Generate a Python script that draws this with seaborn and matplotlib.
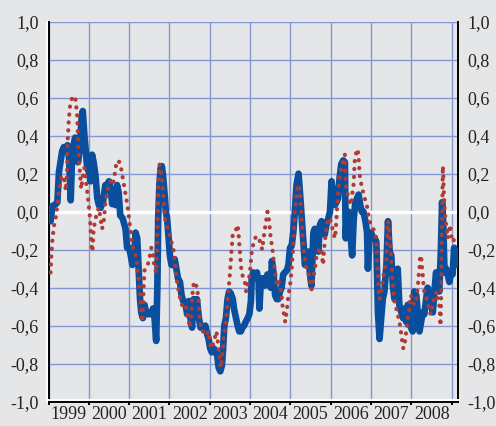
import numpy as np
import pandas as pd
import matplotlib
matplotlib.use("Agg")
import matplotlib.pyplot as plt
import matplotlib.patheffects as pe
import seaborn as sns
from matplotlib.ticker import FuncFormatter

# ---- data (decimal years, correlation values) ----
blue_years = [1999.05, 1999.10, 1999.18, 1999.22, 1999.26, 1999.34, 1999.38, 1999.44, 1999.47, 1999.51,
              1999.55, 1999.59, 1999.66, 1999.69, 1999.73, 1999.77, 1999.82, 1999.85, 1999.89, 1999.92,
              1999.96, 2000.00, 2000.04, 2000.08, 2000.12, 2000.17, 2000.21, 2000.25, 2000.29, 2000.35,
              2000.41, 2000.45, 2000.50, 2000.54, 2000.58, 2000.62, 2000.66, 2000.70, 2000.74, 2000.78,
              2000.84, 2000.91, 2000.95, 2001.00, 2001.04, 2001.08, 2001.12, 2001.16, 2001.20, 2001.24,
              2001.27, 2001.30, 2001.34, 2001.38, 2001.42, 2001.47, 2001.51, 2001.55, 2001.59, 2001.63,
              2001.67, 2001.70, 2001.72, 2001.75, 2001.78, 2001.81, 2001.84, 2001.88, 2001.91, 2001.94,
              2001.98, 2002.01, 2002.05, 2002.09, 2002.13, 2002.17, 2002.21, 2002.26, 2002.30, 2002.34,
              2002.40, 2002.44, 2002.48, 2002.52, 2002.56, 2002.60, 2002.64, 2002.68, 2002.73, 2002.77,
              2002.81, 2002.85, 2002.89, 2002.93, 2002.97, 2003.01, 2003.05, 2003.10, 2003.14, 2003.18,
              2003.22, 2003.26, 2003.30, 2003.33, 2003.36, 2003.40, 2003.44, 2003.48, 2003.52, 2003.57,
              2003.60, 2003.65, 2003.69, 2003.73, 2003.77, 2003.81, 2003.85, 2003.89, 2003.94, 2003.98,
              2004.02, 2004.04, 2004.08, 2004.12, 2004.17, 2004.21, 2004.23, 2004.26, 2004.31, 2004.35,
              2004.39, 2004.43, 2004.47, 2004.51, 2004.54, 2004.58, 2004.62, 2004.66, 2004.70, 2004.74,
              2004.78, 2004.82, 2004.86, 2004.91, 2004.95, 2004.99, 2005.03, 2005.07, 2005.11, 2005.15,
              2005.20, 2005.23, 2005.28, 2005.32, 2005.36, 2005.40, 2005.44, 2005.48, 2005.52, 2005.57,
              2005.60, 2005.65, 2005.69, 2005.73, 2005.77, 2005.81, 2005.85, 2005.89, 2005.94, 2005.98,
              2006.02, 2006.06, 2006.10, 2006.14, 2006.18, 2006.22, 2006.26, 2006.31, 2006.35, 2006.37,
              2006.40, 2006.44, 2006.49, 2006.53, 2006.57, 2006.61, 2006.65, 2006.69, 2006.73, 2006.77,
              2006.81, 2006.86, 2006.90, 2006.92, 2006.96, 2007.00, 2007.05, 2007.09, 2007.13, 2007.17,
              2007.21, 2007.25, 2007.29, 2007.33, 2007.38, 2007.42, 2007.46, 2007.50, 2007.54, 2007.58,
              2007.62, 2007.66, 2007.70, 2007.75, 2007.79, 2007.83, 2007.87, 2007.91, 2007.95, 2007.99,
              2008.03, 2008.07, 2008.12, 2008.16, 2008.20, 2008.24, 2008.28, 2008.32, 2008.36, 2008.40,
              2008.45, 2008.49, 2008.53, 2008.57, 2008.61, 2008.65, 2008.69, 2008.73, 2008.76, 2008.79,
              2008.82, 2008.86, 2008.90, 2008.94, 2008.98, 2009.02, 2009.06, 2009.10, 2009.14]
blue_values = [-0.05, 0.03, 0.04, 0.05, 0.21, 0.32, 0.34, 0.32, 0.35, 0.28,
               0.06, 0.32, 0.39, 0.37, 0.26, 0.32, 0.49, 0.53, 0.40, 0.33,
               0.23, 0.21, 0.16, 0.30, 0.26, 0.18, 0.07, 0.035, 0.02, 0.05,
               0.14, 0.14, 0.16, 0.12, 0.04, 0.10, 0.035, 0.14, 0.10, -0.02,
               -0.035, -0.09, -0.19, -0.19, -0.23, -0.28, -0.25, -0.11, -0.14, -0.32,
               -0.46, -0.53, -0.56, -0.49, -0.53, -0.54, -0.53, -0.54, -0.51, -0.56,
               -0.68, -0.39, -0.035, 0.14, 0.23, 0.24, 0.19, 0.09, 0.0, -0.035,
               -0.14, -0.23, -0.28, -0.28, -0.25, -0.30, -0.35, -0.37, -0.44, -0.47,
               -0.49, -0.54, -0.47, -0.56, -0.61, -0.46, -0.54, -0.46, -0.56, -0.61,
               -0.60, -0.61, -0.60, -0.64, -0.67, -0.72, -0.74, -0.72, -0.74, -0.75,
               -0.82, -0.84, -0.81, -0.72, -0.60, -0.56, -0.46, -0.42, -0.43, -0.46,
               -0.51, -0.56, -0.60, -0.63, -0.63, -0.61, -0.60, -0.58, -0.56, -0.54,
               -0.47, -0.35, -0.32, -0.33, -0.32, -0.37, -0.51, -0.39, -0.35, -0.39,
               -0.37, -0.33, -0.35, -0.40, -0.26, -0.32, -0.44, -0.46, -0.46, -0.42,
               -0.40, -0.33, -0.32, -0.31, -0.28, -0.19, -0.18, -0.11, 0.0, 0.14,
               0.20, 0.12, -0.035, -0.16, -0.28, -0.23, -0.21, -0.32, -0.39, -0.11,
               -0.09, -0.14, -0.21, -0.07, -0.05, -0.11, -0.12, -0.07, -0.035, 0.0,
               0.16, 0.09, 0.035, 0.05, 0.07, 0.18, 0.25, 0.27, 0.26, -0.14,
               0.0, 0.0, -0.12, -0.23, -0.035, 0.05, 0.07, 0.09, 0.035, 0.0,
               0.0, -0.05, -0.11, -0.30, -0.14, -0.11, -0.14, -0.14, -0.16, -0.53,
               -0.67, -0.56, -0.46, -0.42, -0.28, -0.05, -0.21, -0.23, -0.39, -0.46,
               -0.32, -0.30, -0.49, -0.53, -0.56, -0.51, -0.58, -0.49, -0.53, -0.61,
               -0.63, -0.42, -0.44, -0.54, -0.63, -0.58, -0.53, -0.54, -0.47, -0.40,
               -0.42, -0.49, -0.53, -0.42, -0.32, -0.35, -0.42, -0.21, 0.05, -0.07,
               -0.32, -0.30, -0.33, -0.37, -0.32, -0.33, -0.19, -0.25, -0.28]

red_years = [1999.05, 1999.07, 1999.10, 1999.14, 1999.19, 1999.24, 1999.28, 1999.32, 1999.36, 1999.40,
             1999.43, 1999.46, 1999.47, 1999.50, 1999.53, 1999.57, 1999.62, 1999.67, 1999.71, 1999.73,
             1999.75, 1999.79, 1999.81, 1999.85, 1999.89, 1999.93, 1999.98, 2000.03, 2000.07, 2000.09,
             2000.12, 2000.17, 2000.21, 2000.25, 2000.29, 2000.33, 2000.38, 2000.41, 2000.45, 2000.49,
             2000.54, 2000.59, 2000.63, 2000.68, 2000.72, 2000.76, 2000.80, 2000.84, 2000.88, 2000.92,
             2000.96, 2001.00, 2001.04, 2001.08, 2001.12, 2001.16, 2001.20, 2001.24, 2001.28, 2001.30,
             2001.33, 2001.36, 2001.38, 2001.42, 2001.46, 2001.50, 2001.55, 2001.59, 2001.63, 2001.68,
             2001.70, 2001.715, 2001.73, 2001.75, 2001.78, 2001.82, 2001.86, 2001.90, 2001.94, 2001.98,
             2002.03, 2002.07, 2002.11, 2002.15, 2002.19, 2002.23, 2002.27, 2002.31, 2002.36, 2002.40,
             2002.44, 2002.48, 2002.50, 2002.54, 2002.56, 2002.59, 2002.62, 2002.64, 2002.68, 2002.73,
             2002.75, 2002.78, 2002.81, 2002.85, 2002.89, 2002.93, 2002.97, 2003.00, 2003.03, 2003.10,
             2003.16, 2003.19, 2003.22, 2003.26, 2003.28, 2003.30, 2003.33, 2003.34, 2003.38, 2003.41,
             2003.44, 2003.47, 2003.49, 2003.52, 2003.55, 2003.57, 2003.61, 2003.66, 2003.69, 2003.71,
             2003.74, 2003.77, 2003.80, 2003.84, 2003.88, 2003.90, 2003.92, 2003.96, 2003.98, 2004.00,
             2004.02, 2004.04, 2004.10, 2004.15, 2004.18, 2004.22, 2004.26, 2004.30, 2004.34, 2004.38,
             2004.43, 2004.46, 2004.49, 2004.51, 2004.55, 2004.59, 2004.63, 2004.66, 2004.70, 2004.74,
             2004.78, 2004.80, 2004.84, 2004.87, 2004.89, 2004.91, 2004.95, 2004.99, 2005.03, 2005.06,
             2005.09, 2005.11, 2005.15, 2005.19, 2005.22, 2005.25, 2005.28, 2005.31, 2005.36, 2005.40,
             2005.44, 2005.47, 2005.49, 2005.52, 2005.55, 2005.57, 2005.61, 2005.63, 2005.65, 2005.69,
             2005.73, 2005.77, 2005.79, 2005.81, 2005.83, 2005.85, 2005.88, 2005.90, 2005.94, 2005.98,
             2006.02, 2006.06, 2006.10, 2006.12, 2006.14, 2006.16, 2006.18, 2006.21, 2006.24, 2006.29,
             2006.32, 2006.35, 2006.37, 2006.40, 2006.45, 2006.49, 2006.51, 2006.54, 2006.57, 2006.59,
             2006.62, 2006.65, 2006.68, 2006.70, 2006.72, 2006.76, 2006.80, 2006.84, 2006.88, 2006.92,
             2006.96, 2007.00, 2007.05, 2007.10, 2007.13, 2007.15, 2007.17, 2007.19, 2007.21, 2007.25,
             2007.28, 2007.29, 2007.33, 2007.36, 2007.38, 2007.39, 2007.41, 2007.42, 2007.44, 2007.46,
             2007.48, 2007.50, 2007.52, 2007.54, 2007.56, 2007.58, 2007.61, 2007.64, 2007.66, 2007.70,
             2007.73, 2007.75, 2007.77, 2007.80, 2007.83, 2007.85, 2007.87, 2007.89, 2007.91, 2007.94,
             2007.95, 2007.97, 2007.99, 2008.03, 2008.07, 2008.12, 2008.13, 2008.16, 2008.17, 2008.20,
             2008.21, 2008.24, 2008.26, 2008.28, 2008.30, 2008.32, 2008.35, 2008.38, 2008.40, 2008.44,
             2008.49, 2008.51, 2008.53, 2008.57, 2008.59, 2008.63, 2008.65, 2008.67, 2008.69, 2008.71,
             2008.72, 2008.735, 2008.745, 2008.755, 2008.765, 2008.77, 2008.78, 2008.79, 2008.80, 2008.81,
             2008.83, 2008.86, 2008.88, 2008.90, 2008.92, 2008.94, 2008.955, 2008.98, 2009.00, 2009.03,
             2009.06, 2009.10]
red_values = [-0.32, -0.23, -0.14, -0.07, -0.02, 0.07, 0.14, 0.18, 0.19, 0.16,
              0.11, 0.21, 0.35, 0.47, 0.55, 0.59, 0.61, 0.59, 0.51, 0.39,
              0.28, 0.18, 0.12, 0.18, 0.23, 0.16, 0.07, -0.035, -0.19, -0.21,
              -0.09, -0.035, 0.0, 0.02, -0.035, -0.09, -0.035, 0.05, 0.10, 0.14,
              0.16, 0.14, 0.18, 0.25, 0.27, 0.26, 0.23, 0.18, 0.13, 0.08,
              0.03, -0.04, -0.11, -0.175, -0.21, -0.23, -0.28, -0.37, -0.46, -0.55,
              -0.58, -0.40, -0.31, -0.29, -0.28, -0.25, -0.19, -0.22, -0.30, -0.32,
              -0.15, 0.05, 0.17, 0.25, 0.23, 0.16, 0.05, -0.06, -0.08, -0.105,
              -0.14, -0.18, -0.21, -0.30, -0.37, -0.42, -0.46, -0.49, -0.50, -0.49,
              -0.54, -0.58, -0.61, -0.56, -0.46, -0.39, -0.37, -0.39, -0.39, -0.49,
              -0.56, -0.61, -0.63, -0.63, -0.65, -0.64, -0.63, -0.69, -0.72, -0.69,
              -0.63, -0.66, -0.74, -0.79, -0.82, -0.77, -0.72, -0.67, -0.61, -0.56,
              -0.47, -0.40, -0.35, -0.26, -0.17, -0.115, -0.105, -0.09, -0.07, -0.11,
              -0.19, -0.28, -0.33, -0.35, -0.38, -0.42, -0.39, -0.37, -0.34, -0.31,
              -0.26, -0.21, -0.15, -0.13, -0.13, -0.14, -0.17, -0.20, -0.13, -0.07,
              0.0, -0.03, -0.09, -0.14, -0.19, -0.27, -0.33, -0.38, -0.36, -0.39,
              -0.44, -0.49, -0.54, -0.58, -0.55, -0.52, -0.44, -0.39, -0.30, -0.21,
              -0.10, 0.0, 0.10, 0.14, 0.14, 0.06, -0.05, -0.16, -0.26, -0.30,
              -0.32, -0.35, -0.39, -0.41, -0.39, -0.34, -0.30, -0.26, -0.23, -0.21,
              -0.19, -0.21, -0.25, -0.28, -0.21, -0.16, -0.11, -0.07, -0.035, -0.035,
              -0.07, -0.105, -0.14, -0.105, -0.035, 0.035, 0.10, 0.16, 0.21, 0.25,
              0.28, 0.30, 0.14, 0.105, 0.07, 0.035, 0.05, 0.105, 0.15, 0.26,
              0.30, 0.33, 0.31, 0.25, 0.19, 0.14, 0.105, 0.07, 0.05, 0.0,
              -0.05, -0.07, -0.09, -0.105, -0.16, -0.26, -0.35, -0.42, -0.46, -0.42,
              -0.39, -0.35, -0.32, -0.28, -0.25, -0.18, -0.09, -0.05, -0.07, -0.14,
              -0.18, -0.25, -0.32, -0.39, -0.44, -0.47, -0.49, -0.53, -0.54, -0.58,
              -0.61, -0.65, -0.68, -0.72, -0.70, -0.67, -0.63, -0.60, -0.56, -0.53,
              -0.49, -0.46, -0.44, -0.47, -0.49, -0.47, -0.44, -0.40, -0.35, -0.30,
              -0.25, -0.23, -0.28, -0.33, -0.39, -0.42, -0.44, -0.46, -0.47, -0.53,
              -0.54, -0.51, -0.47, -0.46, -0.44, -0.42, -0.46, -0.47, -0.49, -0.54,
              -0.60, -0.47, -0.25, -0.12, 0.0, 0.105, 0.24, 0.19, 0.12, 0.07,
              0.0, -0.07, -0.105, -0.14, -0.105, -0.09, -0.07, -0.105, -0.14, -0.13,
              -0.16, -0.17]

year_labels = ["1999", "2000", "2001", "2002", "2003", "2004", "2005", "2006", "2007", "2008"]
y_ticks = [-1.0, -0.8, -0.6, -0.4, -0.2, 0.0, 0.2, 0.4, 0.6, 0.8, 1.0]

# ---- style ----
BG = "#e5e6e8"
GRID = "#8597d3"
BLUE = "#0a4f9e"
RED = "#ae3b34"

sns.set_style("white", {"axes.facecolor": BG, "figure.facecolor": BG})
plt.rcParams["font.family"] = ["Liberation Serif", "DejaVu Serif"]

fig = plt.figure(figsize=(4.96, 4.26), dpi=100, facecolor=BG)
ax = fig.add_axes([48.5 / 496, (426 - 401.7) / 426, (458 - 48.5) / 496, (401.7 - 21.7) / 426])
ax.set_facecolor(BG)

df_blue = pd.DataFrame({"year": blue_years, "value": blue_values})
df_red = pd.DataFrame({"year": red_years, "value": red_values})

sns.lineplot(data=df_blue, x="year", y="value", ax=ax, color=BLUE, linewidth=4.8,
             estimator=None, sort=False, zorder=3)
ax.lines[-1].set_solid_joinstyle("round")
ax.lines[-1].set_solid_capstyle("round")
sns.lineplot(data=df_red, x="year", y="value", ax=ax, color=RED, linewidth=3.0,
             estimator=None, sort=False, zorder=4)
red_line = ax.lines[-1]
red_line.set_linestyle((0, (0.05, 1.85)))
red_line.set_dash_capstyle("round")

ax.axhline(0.0, color="white", linewidth=2.4, zorder=2)

ax.set_xlim(1999.04, 2009.155)
ax.set_ylim(-1.0, 1.0)

# grid / ticks
ax.set_axisbelow(True)
ax.set_xticks(list(range(1999, 2010)))
ax.set_xticklabels([])
ax.set_xticks([int(y) + 0.5 for y in year_labels], minor=True)
ax.set_xticklabels(year_labels, minor=True)
ax.set_yticks(y_ticks)
ax.yaxis.set_major_formatter(FuncFormatter(lambda v, p: f"{v:.1f}".replace(".", ",").replace("-0,0", "0,0")))
ax.grid(True, which="major", color=GRID, linewidth=1.0)
ax.grid(False, which="minor")

ax.tick_params(axis="x", which="major", length=4, width=1.4, direction="inout", color="black",
               bottom=True)
ax.tick_params(axis="x", which="minor", length=0, labelsize=13, pad=3, colors="#222222")
ax.tick_params(axis="y", which="major", length=0, labelsize=13, pad=7, labelleft=True,
               labelright=True, colors="#222222")

for s in ["left", "right", "bottom"]:
    ax.spines[s].set_visible(True)
    ax.spines[s].set_color("black")
    ax.spines[s].set_linewidth(1.4)
ax.spines["top"].set_visible(False)
ax.spines["left"].set_path_effects([pe.SimpleLineShadow(offset=(-1.3, 0), shadow_color="white", alpha=1.0, rho=1.0), pe.Normal()])
ax.spines["bottom"].set_path_effects([pe.SimpleLineShadow(offset=(0, 1.2), shadow_color="white", alpha=1.0, rho=1.0), pe.Normal()])

ax.set_xlabel("")
ax.set_ylabel("")

fig.savefig("out.png", dpi=100, facecolor=BG)
